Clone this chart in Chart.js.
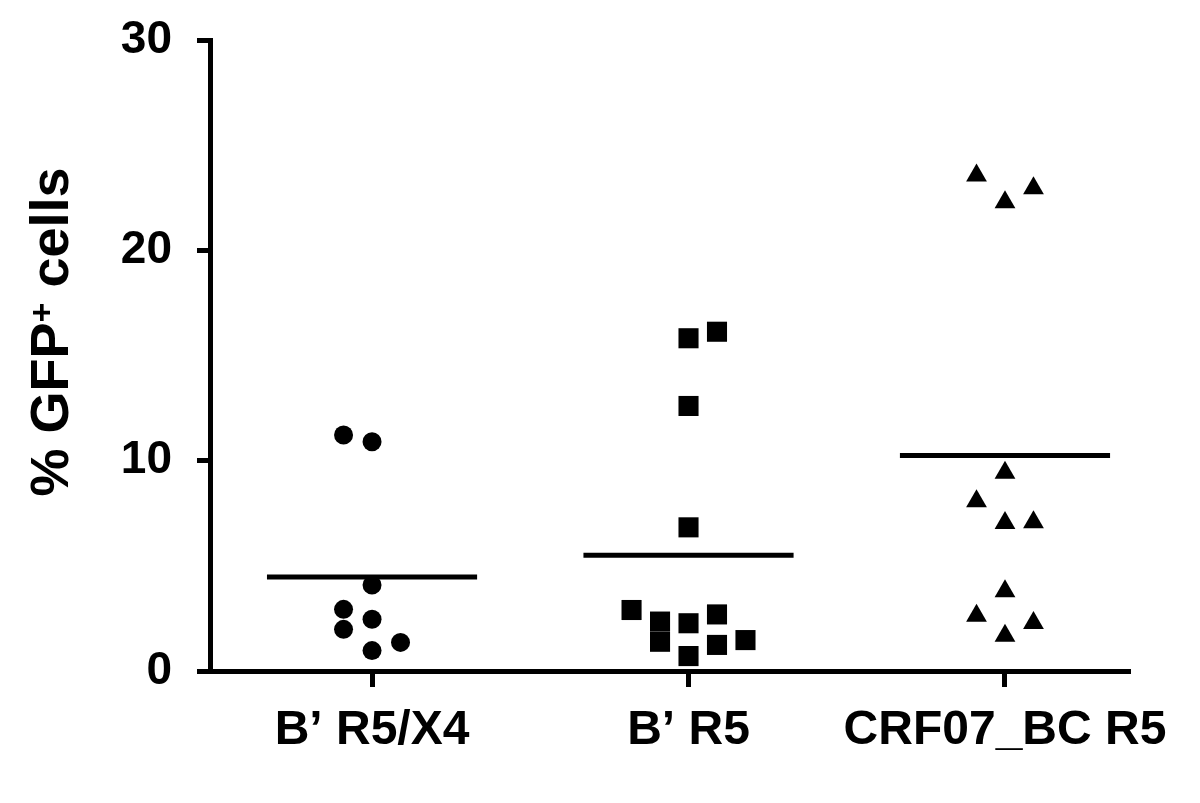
<!DOCTYPE html>
<html>
<head>
<meta charset="utf-8">
<title>% GFP+ cells</title>
<script src="https://cdn.jsdelivr.net/npm/chart.js@4.4.1/dist/chart.umd.min.js"></script>
<style>
    body { margin: 0; background: #fff; }
    #wrap { width: 1200px; height: 803px; }
</style>
</head>
<body>
<div id="wrap"><canvas id="chart" width="1200" height="803"></canvas></div>
<script>
let categories = ["B\u2019 R5/X4", "B\u2019 R5", "CRF07_BC R5"];

// % GFP+ cells, and the column each point sits in (-2..2) around its group
let r5x4Values = [11.22, 10.90, 4.09, 2.93, 2.46, 1.98, 1.36, 0.97];
let r5x4Cols   = [-1, 0, 0, -1, 0, -1, 1, 0];

let r5Values = [15.82, 16.13, 12.60, 6.83, 2.90, 2.35, 2.27, 2.69, 1.39, 1.24, 1.47, 0.71];
let r5Cols   = [0, 1, 0, 0, -2, -1, 0, 1, -1, 1, 2, 0];

let crf07Values = [23.56, 22.95, 22.29, 9.42, 8.07, 7.04, 7.07, 3.79, 2.63, 2.28, 1.68];
let crf07Cols   = [-1, 1, 0, 0, -1, 0, 1, 0, -1, 1, 0];

let means = [4.47, 5.50, 10.24];
let yTicks = [0, 10, 20, 30];

const colStep = 0.09;
const meanHalf = 0.332;
const fontFamily = "'Liberation Sans', Arial, Helvetica, sans-serif";

function toPoints(values, cols, group) {
    let pts = [];
    values.forEach((v, i) => {
        pts.push({ x: group + cols[i] * colStep, y: v });
    });
    return pts;
}

function meanLine(group) {
    let m = means[group - 1];
    return {
        type: 'line',
        data: [{ x: group - meanHalf, y: m }, { x: group + meanHalf, y: m }],
        borderColor: "#000",
        borderWidth: 5,
        pointRadius: 0,
        showLine: true,
        fill: false
    };
}

// y axis title with a raised "+"
const yTitlePlugin = {
    id: 'yTitle',
    afterDraw(chart) {
        let ctx = chart.ctx;
        let big = "bold 54px " + fontFamily;
        let small = "bold 34px " + fontFamily;
        ctx.save();
        ctx.fillStyle = "#000";
        ctx.textBaseline = "alphabetic";
        ctx.textAlign = "left";
        ctx.font = big;
        let w1 = ctx.measureText("% GFP").width;
        let w3 = ctx.measureText(" cells").width;
        ctx.font = small;
        let w2 = ctx.measureText("+").width;
        let total = w1 + w2 + w3;
        ctx.translate(68, 332);
        ctx.rotate(-Math.PI / 2);
        let x = -total / 2;
        ctx.font = big;
        ctx.fillText("% GFP", x, 0);
        x += w1;
        ctx.font = small;
        ctx.fillText("+", x, -15);
        x += w2;
        ctx.font = big;
        ctx.fillText(" cells", x, 0);
        ctx.restore();
    }
};

let context = document.getElementById("chart").getContext('2d');

let chart = new Chart(context, {
    type: 'scatter',
    data: {
        datasets: [
            {
                data: toPoints(r5x4Values, r5x4Cols, 1),
                pointStyle: 'circle',
                pointRadius: 9.5,
                backgroundColor: "#000",
                borderWidth: 0
            },
            {
                data: toPoints(r5Values, r5Cols, 2),
                pointStyle: 'rect',
                pointRadius: 14.2,
                backgroundColor: "#000",
                borderWidth: 0
            },
            {
                data: toPoints(crf07Values, crf07Cols, 3),
                pointStyle: 'triangle',
                pointRadius: 12,
                backgroundColor: "#000",
                borderWidth: 0
            },
            meanLine(1),
            meanLine(2),
            meanLine(3)
        ]
    },
    options: {
        responsive: false,
        animation: false,
        events: [],
        layout: {
            padding: { left: 0, right: 70, top: 40, bottom: 0 }
        },
        plugins: {
            legend: { display: false },
            tooltip: { enabled: false }
        },
        scales: {
            x: {
                type: 'linear',
                min: 0.488,
                max: 3.395,
                afterBuildTicks: scale => {
                    scale.ticks = categories.map((c, i) => ({ value: i + 1 }));
                },
                afterFit: scale => { scale.height = 132; },
                ticks: {
                    autoSkip: false,
                    maxRotation: 0,
                    padding: 15,
                    color: "#000",
                    font: { family: fontFamily, size: 48, weight: 'bold' },
                    callback: value => categories[value - 1]
                },
                grid: {
                    drawOnChartArea: false,
                    drawTicks: true,
                    tickLength: 16,
                    tickWidth: 5,
                    tickColor: "#000"
                },
                border: { display: true, color: "#000", width: 5 }
            },
            y: {
                min: 0,
                max: 30,
                afterBuildTicks: scale => {
                    scale.ticks = yTicks.map(v => ({ value: v }));
                },
                afterFit: scale => {
                    scale.width = 210;
                    scale.paddingTop = 0;
                    scale.paddingBottom = 0;
                },
                ticks: {
                    padding: 25,
                    color: "#000",
                    font: { family: fontFamily, size: 46, weight: 'bold' }
                },
                grid: {
                    drawOnChartArea: false,
                    drawTicks: true,
                    tickLength: 13,
                    tickWidth: 5,
                    tickColor: "#000"
                },
                border: { display: true, color: "#000", width: 5 }
            }
        }
    },
    plugins: [yTitlePlugin]
});
</script>
</body>
</html>
